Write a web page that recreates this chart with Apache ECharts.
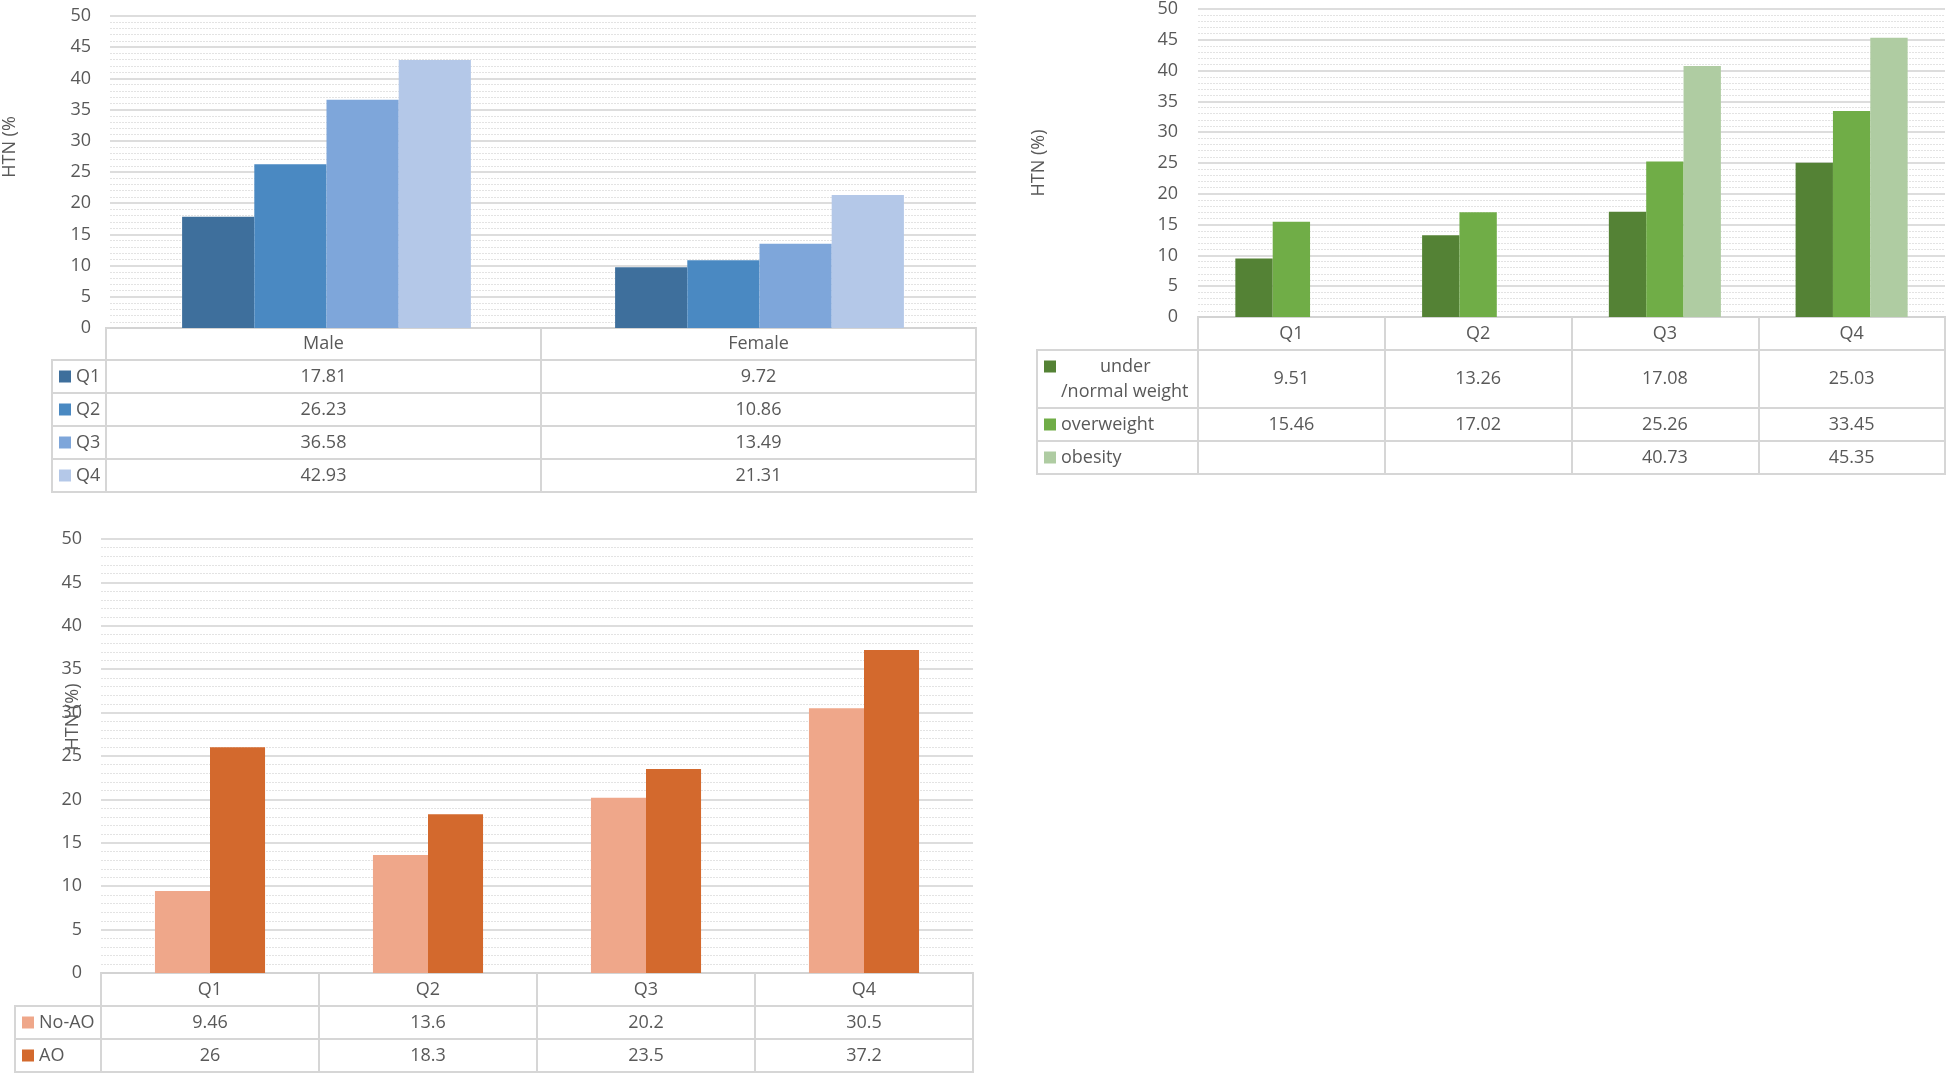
<!DOCTYPE html>
<html>
<head>
<meta charset="utf-8">
<script src="https://cdn.jsdelivr.net/npm/echarts@6/dist/echarts.min.js"></script>
<style>
html,body{margin:0;padding:0;background:#ffffff;}
#c{width:1946px;height:1073px;}
</style>
</head>
<body>
<div id="c"></div>
<script>
// ---------------- DATA ----------------
// Panel A: by sex
const sexCategories = ['Male', 'Female'];
const sexSeriesNames = ['Q1', 'Q2', 'Q3', 'Q4'];
const sexQ1 = [17.81, 9.72];
const sexQ2 = [26.23, 10.86];
const sexQ3 = [36.58, 13.49];
const sexQ4 = [42.93, 21.31];

// Panel B: by BMI group
const bmiCategories = ['Q1', 'Q2', 'Q3', 'Q4'];
const bmiSeriesNames = ['under\n/normal weight', 'overweight', 'obesity'];
const bmiUnderNormal = [9.51, 13.26, 17.08, 25.03];
const bmiOverweight = [15.46, 17.02, 25.26, 33.45];
const bmiObesity = [null, null, 40.73, 45.35];

// Panel C: by abdominal obesity
const aoCategories = ['Q1', 'Q2', 'Q3', 'Q4'];
const aoSeriesNames = ['No-AO', 'AO'];
const aoNo = [9.46, 13.6, 20.2, 30.5];
const aoYes = [26, 18.3, 23.5, 37.2];

// value axis ticks
const yMin = 0, yMax = 50, yInterval = 5;
const yNames = ['HTN (%', 'HTN (%)', 'HTN (%)'];

// ---------------- STYLE / LAYOUT ----------------
const TXT = '#595959';
const BORDER = '#d6d6d6';
const FONT = 'Open Sans';
const FS = 18;

const panels = [
  {
    cats: sexCategories, names: sexSeriesNames,
    values: [sexQ1, sexQ2, sexQ3, sexQ4],
    colors: ['#3e6f9c', '#4a89c2', '#7ea6da', '#b4c8e8'],
    plot: {left: 106, top: 16, width: 870, height: 312},
    tableLeft: 52, headerH: 32, rowH: [33, 33, 33, 33],
    catGap: '33.3%', yName: yNames[0], nameGap: 91, namePad: 50, labelMargin: 19, moveOverlap: false
  },
  {
    cats: bmiCategories, names: bmiSeriesNames,
    values: [bmiUnderNormal, bmiOverweight, bmiObesity],
    colors: ['#548235', '#70ad47', '#afcca2'],
    plot: {left: 1198, top: 7, width: 747, height: 310},
    tableLeft: 1037, headerH: 33, rowH: [58, 33, 33],
    catGap: '40%', yName: yNames[1], nameGap: 150, namePad: 0, labelMargin: 20, moveOverlap: false
  },
  {
    cats: aoCategories, names: aoSeriesNames,
    values: [aoNo, aoYes],
    colors: ['#efa78a', '#d3692d'],
    plot: {left: 101, top: 539, width: 872, height: 434},
    tableLeft: 15, headerH: 33, rowH: [33, 33],
    catGap: '49.5%', yName: yNames[2], nameGap: 19, namePad: 78, labelMargin: 19, moveOverlap: false
  }
];

const grid = [], xAxis = [], yAxis = [], series = [];

function hiddenValueY(gi) {
  yAxis.push({type: 'value', gridIndex: gi, show: false, min: 0, max: 1});
}
function hiddenCatX(gi) {
  xAxis.push({type: 'category', gridIndex: gi, show: false, data: ['']});
}

function legendRich(name, color) {
  const sq = {width: 12, height: 12, backgroundColor: color};
  if (name.indexOf('\n') >= 0) {
    const parts = name.split('\n');
    return {
      text: '{sq|}{a|' + parts[0] + '}\n{b|' + parts[1] + '}',
      rich: {
        sq: sq,
        a: {fontSize: FS, color: TXT, fontFamily: FONT, padding: [0, 0, 0, 44], lineHeight: 25},
        b: {fontSize: FS, color: TXT, fontFamily: FONT, padding: [0, 0, 0, 17], lineHeight: 25}
      }
    };
  }
  return {
    text: '{sq|}{a|' + name + '}',
    rich: {
      sq: sq,
      a: {fontSize: FS, color: TXT, fontFamily: FONT, padding: [0, 0, 0, 5]}
    }
  };
}

panels.forEach(function (p) {
  // ---- main plot grid ----
  const gi = grid.length;
  grid.push({left: p.plot.left, top: p.plot.top, width: p.plot.width, height: p.plot.height, containLabel: false});
  xAxis.push({
    type: 'category', gridIndex: gi, data: p.cats,
    axisLine: {show: false}, axisTick: {show: false}, axisLabel: {show: false}, splitLine: {show: false}
  });
  yAxis.push({
    type: 'value', gridIndex: gi, min: yMin, max: yMax, interval: yInterval,
    axisLine: {show: false}, axisTick: {show: false},
    axisLabel: {color: TXT, fontSize: FS, fontFamily: FONT, margin: p.labelMargin},
    splitLine: {show: true, lineStyle: {color: '#d2d2d2', width: 1.5}},
    minorTick: {show: false, splitNumber: 5},
    minorSplitLine: {show: true, lineStyle: {color: '#e3e3e3', width: 1, type: [2, 1]}},
    name: p.yName, nameLocation: 'middle', nameRotate: 90, nameGap: p.nameGap,
    nameMoveOverlap: p.moveOverlap,
    nameTextStyle: {color: TXT, fontSize: FS, fontFamily: FONT, padding: [0, 0, 0, p.namePad]}
  });
  p.values.forEach(function (vals, si) {
    series.push({
      type: 'bar', name: p.names[si], xAxisIndex: gi, yAxisIndex: gi,
      data: vals, barGap: '0%', barCategoryGap: p.catGap,
      itemStyle: {color: p.colors[si]}, silent: true, animation: false
    });
  });

  // ---- header row (category names) ----
  let top = p.plot.top + p.plot.height;
  const hg = grid.length;
  grid.push({left: p.plot.left, top: top, width: p.plot.width, height: p.headerH,
    show: true, borderColor: BORDER, borderWidth: 2, backgroundColor: 'transparent'});
  xAxis.push({
    type: 'category', gridIndex: hg, data: p.cats, position: 'top',
    axisLine: {show: false}, axisTick: {show: false},
    axisLabel: {inside: true, interval: 0, margin: p.headerH / 2, verticalAlign: 'middle',
      color: TXT, fontSize: FS, fontFamily: FONT},
    splitLine: {show: true, interval: 0, lineStyle: {color: BORDER, width: 2}}
  });
  hiddenValueY(hg);
  top += p.headerH;

  // ---- data rows ----
  p.values.forEach(function (vals, si) {
    const h = p.rowH[si];
    // value cells
    const rg = grid.length;
    grid.push({left: p.plot.left, top: top, width: p.plot.width, height: h,
      show: true, borderColor: BORDER, borderWidth: 2, backgroundColor: 'transparent'});
    xAxis.push({
      type: 'category', gridIndex: rg, data: p.cats, position: 'top',
      axisLine: {show: false}, axisTick: {show: false},
      axisLabel: {inside: true, interval: 0, margin: h / 2, verticalAlign: 'middle',
        color: TXT, fontSize: FS, fontFamily: FONT,
        formatter: function (v, idx) { const d = vals[idx]; return d == null ? '' : String(d); }},
      splitLine: {show: true, interval: 0, lineStyle: {color: BORDER, width: 2}}
    });
    const lr = legendRich(p.names[si], p.colors[si]);
    yAxis.push({
      type: 'category', gridIndex: rg, data: [p.names[si]],
      axisLine: {show: false}, axisTick: {show: false}, splitLine: {show: false},
      axisLabel: {align: 'left', margin: p.plot.left - p.tableLeft - 7,
        formatter: function () { return lr.text; }, rich: lr.rich,
        color: TXT, fontSize: FS, fontFamily: FONT}
    });
    // legend cell border
    const lg = grid.length;
    grid.push({left: p.tableLeft, top: top, width: p.plot.left - p.tableLeft, height: h,
      show: true, borderColor: BORDER, borderWidth: 2, backgroundColor: 'transparent'});
    hiddenCatX(lg);
    hiddenValueY(lg);
    top += h;
  });
});

const chart = echarts.init(document.getElementById('c'), null, {renderer: 'canvas'});
chart.setOption({
  backgroundColor: '#ffffff',
  animation: false,
  textStyle: {fontFamily: FONT},
  grid: grid, xAxis: xAxis, yAxis: yAxis, series: series
});
</script>
</body>
</html>
